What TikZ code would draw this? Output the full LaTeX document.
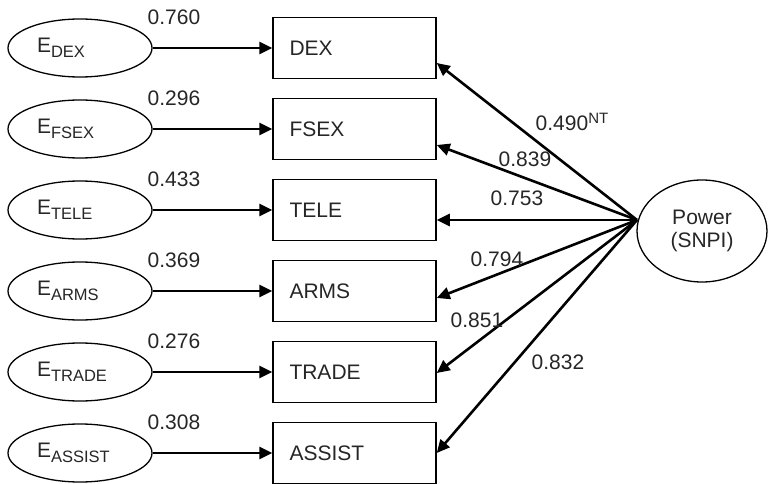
\documentclass[tikz,border=0pt]{standalone}
\usepackage{fontspec}
\setmainfont{Liberation Sans}
\usetikzlibrary{arrows.meta,shapes.geometric}
\newcommand{\esub}[1]{\makebox[86pt][l]{E\raisebox{-5pt}{\fontsize{16.5}{16.5}\selectfont #1}}}
\begin{document}
\begin{tikzpicture}[x=1pt,y=-1pt,
  every node/.style={font=\fontsize{21}{23}\selectfont, text=black!85},
  errell/.style={draw, ellipse, line width=1.3pt, minimum width=144pt, minimum height=58pt, inner sep=0pt},
  obsbox/.style={draw, rectangle, line width=1.5pt, minimum width=163pt, minimum height=61pt, inner sep=0pt, text width=130pt, align=left},
  conn/.style={line width=2.6pt, -{Triangle[length=13pt,width=12pt]}},
  lbl/.style={inner sep=0pt}]
\useasboundingbox (0,0) rectangle (771,484);
% error ellipses
\node[errell] (e1) at (80,48) {\esub{DEX}};
\node[errell] (e2) at (80,129) {\esub{FSEX}};
\node[errell] (e3) at (80,210) {\esub{TELE}};
\node[errell] (e4) at (80,291) {\esub{ARMS}};
\node[errell] (e5) at (80,372) {\esub{TRADE}};
\node[errell] (e6) at (80,453) {\esub{ASSIST}};
% boxes
\node[obsbox] (b1) at (354.5,48) {DEX};
\node[obsbox] (b2) at (354.5,129) {FSEX};
\node[obsbox] (b3) at (354.5,210) {TELE};
\node[obsbox] (b4) at (354.5,291) {ARMS};
\node[obsbox] (b5) at (354.5,372) {TRADE};
\node[obsbox] (b6) at (354.5,453) {ASSIST};
% error arrows
\foreach \i in {1,...,6} {\draw[conn] (e\i.east) -- (b\i.west);}
\node[lbl] (l1) at (174,17) {0.760};
\node[lbl] (l2) at (174,98) {0.296};
\node[lbl] (l3) at (174,179) {0.433};
\node[lbl] (l4) at (174,260) {0.369};
\node[lbl] (l5) at (174,341) {0.276};
\node[lbl] (l6) at (174,422) {0.308};
% latent
\node[draw, ellipse, line width=1.3pt, minimum width=130pt, minimum height=102pt, align=center, inner sep=0pt] (pw) at (702,231) {Power\\(SNPI)};
\coordinate (src) at (637,220);
\draw[conn] (src) -- ([yshift=-15pt]b1.east);
\draw[conn] (src) -- ([yshift=-16pt]b2.east);
\draw[conn] (src) -- ([yshift=-10pt]b3.east);
\draw[conn] (src) -- ([yshift=-7pt]b4.east);
\draw[conn] (src) -- ([yshift=-1pt]b5.east);
\draw[conn] (src) -- (b6.east);
\node[lbl] (m1) at (572,122) {0.490\raisebox{7pt}{\fontsize{15}{15}\selectfont NT}};
\node[lbl] (m2) at (525,159) {0.839};
\node[lbl] (m3) at (517,198) {0.753};
\node[lbl] (m4) at (497,259) {0.794};
\node[lbl] (m5) at (477,320) {0.851};
\node[lbl] (m6) at (558,362) {0.832};
\end{tikzpicture}
\end{document}
